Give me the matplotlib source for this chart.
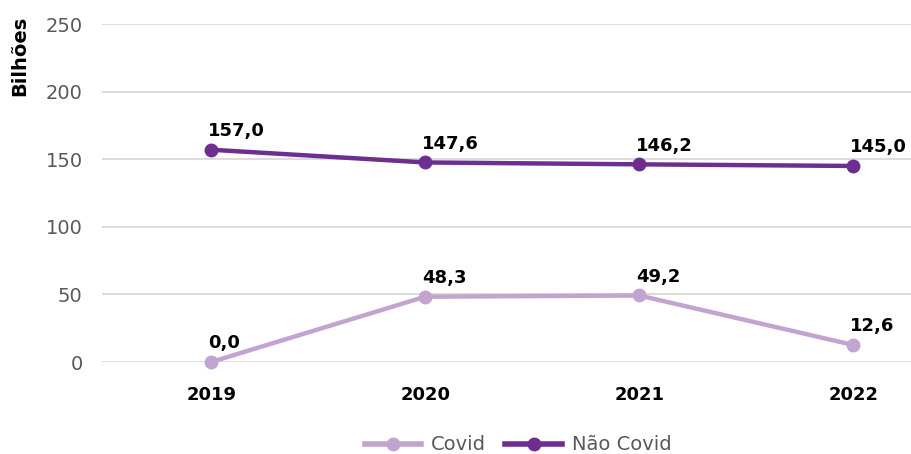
import matplotlib
matplotlib.use("Agg")
import matplotlib.pyplot as plt
from matplotlib.lines import Line2D

plt.rcParams['font.family'] = ['DejaVu Sans']

anos = ["2019", "2020", "2021", "2022"]
covid = [0.0, 48.3, 49.2, 12.6]
nao_covid = [157.0, 147.6, 146.2, 145.0]
series_nomes = ["Covid", "Não Covid"]

cor_covid = "#C1A5D0"
cor_nao = "#6E2E8F"

fig = plt.figure(figsize=(9.11, 4.54), dpi=100)
ax = fig.add_axes([102 / 911, (454 - 362) / 454, 1 - 102 / 911, (362 - 24) / 454])

x = list(range(len(anos)))
for vals, cor in ((covid, cor_covid), (nao_covid, cor_nao)):
    ax.plot(x, vals, color=cor, lw=3.2, marker="o", ms=9, clip_on=False, zorder=3,
            solid_capstyle="round")
    for xi, v in zip(x, vals):
        ax.annotate(f"{v:.1f}".replace(".", ","), (xi, v), xytext=(-2, 7),
                    textcoords="offset points", ha="left", va="bottom",
                    fontsize=13, fontweight="bold", color="black")

ax.set_xlim(-0.51, 3.27)
ax.set_ylim(0, 250)
ax.set_yticks([0, 50, 100, 150, 200, 250])
ax.set_xticks(x)
ax.set_xticklabels(anos, fontsize=13, fontweight="bold", color="black")
ax.tick_params(axis="y", length=0, pad=14, labelsize=14, labelcolor="#595959")
ax.tick_params(axis="x", length=0, pad=17)
ax.grid(axis="y", color="#D9D9D9", lw=1.3)
ax.set_axisbelow(True)
for s in ax.spines.values():
    s.set_visible(False)

fig.text(20 / 911, 1 - 56 / 454, "Bilhões", rotation=90, ha="center", va="center",
         fontsize=14, fontweight="bold", color="black")

handles = [Line2D([0], [0], color=c, lw=4, marker="o", ms=9) for c in (cor_covid, cor_nao)]
fig.legend(handles, series_nomes, loc="center", bbox_to_anchor=(518 / 911, 1 - 445 / 454),
           ncol=2, frameon=False, fontsize=14, handlelength=2.9, columnspacing=1.0,
           handletextpad=0.5, labelcolor="#595959")

fig.savefig("out.png", dpi=100)
